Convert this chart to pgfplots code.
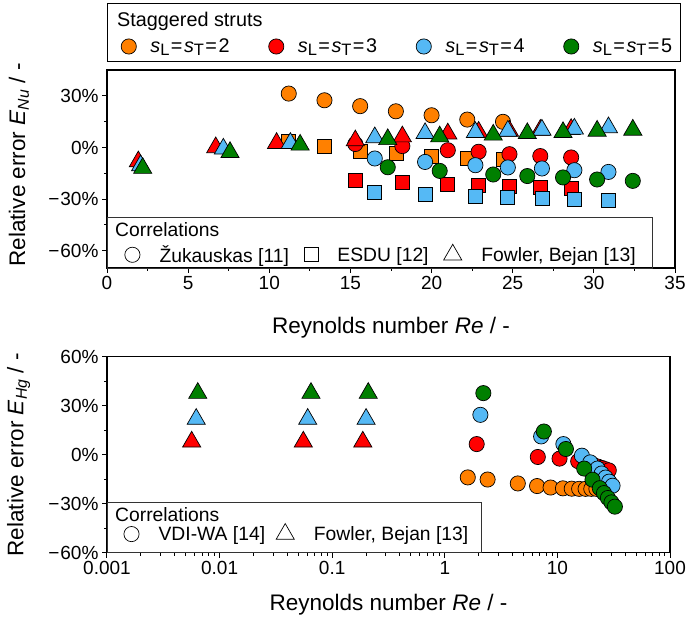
\documentclass[border=0pt]{standalone}
\usepackage{fontspec}
\setmainfont{Liberation Sans}
\usepackage{pgfplots}
\pgfplotsset{compat=1.18}
\definecolor{cOr}{HTML}{FF8000}
\definecolor{cRe}{HTML}{FF0000}
\definecolor{cBl}{HTML}{55B9F5}
\definecolor{cGr}{HTML}{007F00}
\pgfplotsset{
  base/.style={scale only axis, axis line style={line width=1.2pt},
    tick align=outside, xtick pos=left, ytick pos=left,
    major tick length=5pt, minor tick length=3pt,
    every tick/.append style={black, line width=1pt},
    tick label style={font=\fontsize{19}{22}\selectfont},
    label style={font=\fontsize{22.5}{26}\selectfont},
    legend cell align=left,
    legend image code/.code={\draw[##1] plot coordinates {(0pt,0pt)};}},
  C/.style={only marks, mark=*, mark size=7.6pt, mark options={fill=#1, draw=black, line width=0.7pt}, forget plot},
  S/.style={only marks, mark=square*, mark size=7pt, mark options={fill=#1, draw=black, line width=0.7pt}, forget plot},
  T/.style={only marks, mark=triangle*, mark size=10.5pt, mark options={fill=#1, draw=black, line width=0.7pt}, forget plot},
  LC/.style={only marks, mark=o, mark size=7.6pt, black, line width=0.7pt},
  LS/.style={only marks, mark=square, mark size=7pt, black, line width=0.7pt},
  LT/.style={only marks, mark=triangle, mark size=10.5pt, black, line width=0.7pt},
}
\newcommand{\sub}[1]{\raisebox{-0.3ex}{\fontsize{16.5}{17}\selectfont #1}}
\newcommand{\sLT}[1]{\textit{s}\sub{L}\kern1.5pt=\kern1.5pt\textit{s}\sub{T}\kern1.5pt=\kern1.5pt#1}
\newcommand{\mn}{\kern2pt−\kern1pt}
\begin{document}
\begin{tikzpicture}
\useasboundingbox (0pt,0pt) rectangle (688pt,626pt);
% ---------------- top axis ----------------
\begin{axis}[base, at={(107pt,358pt)}, anchor=south west, width=568pt, height=198pt,
  xmin=0, xmax=35, ymin=-70, ymax=45,
  xtick={0,5,10,15,20,25,30,35}, xticklabels={0,5,10,15,20,25,30,35}, minor x tick num=1,
  ytick={-60,-30,0,30}, yticklabels={\mn60\%,\mn30\%,0\%,30\%}, minor y tick num=1,
  xlabel={Reynolds number \textit{Re} / -},
  ylabel={Relative error \textit{E}\textsubscript{\textit{Nu}} / -},
  xlabel style={at={(axis description cs:0.5,-0.303)}, anchor=center},
  ylabel style={at={(axis description cs:-0.155,0.52)}, anchor=center},
  legend columns=3,
  legend style={at={(axis description cs:0.031,0.07)}, anchor=west, draw=none, fill=none,
    inner sep=0pt, nodes={inner sep=0pt}, font=\fontsize{19.3}{22}\selectfont,
    /tikz/every odd column/.append style={column sep=19.5pt},
    /tikz/every even column/.append style={column sep=15pt}},
]
\addlegendimage{LC}\addlegendentry{Žukauskas [11]}
\addlegendimage{LS}\addlegendentry{ESDU [12]}
\addlegendimage{LT}\addlegendentry{Fowler, Bejan [13]}
% orange s=2
\addplot[C=cOr] coordinates {(11.2,31.3) (13.4,27.4) (15.6,24.0) (17.8,21.0) (20.0,18.7) (22.2,16.2) (24.4,14.9)};
\addplot[S=cOr] coordinates {(11.2,3.8) (13.4,0.4) (15.6,-2.0) (17.8,-3.5) (20.0,-5.0) (22.2,-6.4) (24.4,-7.0)};
% red s=3
\addplot[C=cRe] coordinates {(15.3,2.0) (18.2,0.8) (21.0,-1.6) (22.9,-2.5) (24.8,-3.9) (26.7,-5.0) (28.6,-5.8)};
\addplot[S=cRe] coordinates {(15.3,-19.0) (18.2,-20.3) (21.0,-21.3) (22.9,-21.9) (24.8,-22.5) (26.7,-23.2) (28.6,-23.8)};
\addplot[T=cRe] coordinates {(1.93,-8.2) (6.7,0.0) (10.45,2.5) (15.3,4.0) (18.2,6.3) (21.0,8.0) (22.9,9.0) (24.8,9.6) (26.7,10.1) (28.6,10.6)};
% blue s=4
\addplot[C=cBl] coordinates {(16.5,-6.4) (19.6,-8.4) (22.7,-10.3) (24.7,-11.6) (26.8,-12.2) (28.8,-13.2) (30.9,-14.2)};
\addplot[S=cBl] coordinates {(16.5,-26.1) (19.6,-27.3) (22.7,-28.3) (24.7,-29.0) (26.8,-29.6) (28.8,-30.2) (30.9,-30.6)};
\addplot[T=cBl] coordinates {(2.07,-10.5) (7.17,-0.8) (11.3,2.5) (16.5,5.8) (19.6,8.2) (22.7,8.8) (24.7,9.6) (26.8,10.2) (28.8,10.8) (30.9,11.6)};
% green s=5
\addplot[C=cGr] coordinates {(17.3,-11.5) (20.5,-13.6) (23.8,-15.7) (25.9,-16.6) (28.1,-17.4) (30.2,-18.6) (32.4,-19.4)};
\addplot[T=cGr] coordinates {(2.2,-12.0) (7.58,-2.8) (11.9,1.5) (17.3,4.7) (20.5,6.3) (23.8,7.3) (25.9,8.2) (28.1,8.8) (30.2,9.6) (32.4,10.2)};
\end{axis}
% ---------------- bottom axis ----------------
\begin{axis}[base, at={(107pt,73.3pt)}, anchor=south west, width=563pt, height=196pt,
  xmode=log, xmin=0.001, xmax=100, ymin=-60, ymax=60,
  xtick={0.001,0.01,0.1,1,10,100}, xticklabels={0.001,0.01,0.1,1,10,100},
  ytick={-60,-30,0,30,60}, yticklabels={\mn60\%,\mn30\%,0\%,30\%,60\%}, minor y tick num=1,
  xlabel={Reynolds number \textit{Re} / -},
  ylabel={Relative error \textit{E}\textsubscript{\textit{Hg}} / -},
  xlabel style={at={(axis description cs:0.5,-0.267)}, anchor=center},
  ylabel style={at={(axis description cs:-0.157,0.5)}, anchor=center},
  legend columns=2,
  legend style={at={(axis description cs:0.0297,0.102)}, anchor=west, draw=none, fill=none,
    inner sep=0pt, nodes={inner sep=0pt}, font=\fontsize{19.3}{22}\selectfont,
    /tikz/every odd column/.append style={column sep=19.5pt},
    /tikz/every even column/.append style={column sep=11pt}},
]
\addlegendimage{LC}\addlegendentry{VDI-WA [14]}
\addlegendimage{LT}\addlegendentry{Fowler, Bejan [13]}
\addplot[C=cOr] coordinates {(1.6,-13.9) (2.4,-15.2) (4.45,-17.6) (6.6,-19.2) (8.7,-20.1) (11.2,-20.6) (13.4,-20.8) (15.6,-20.9) (17.8,-20.9) (20.0,-20.9) (22.2,-20.9) (24.4,-20.9)};
\addplot[T=cRe] coordinates {(0.00565,7.9) (0.0554,7.9) (0.187,7.9)};
\addplot[C=cRe] coordinates {(1.92,6.5) (6.7,-1.4) (10.45,-2.4) (15.3,-4.0) (18.2,-5.3) (21.0,-6.4) (22.9,-7.3) (24.8,-8.1) (26.7,-8.9) (28.6,-9.6)};
\addplot[T=cBl] coordinates {(0.0062,21.8) (0.0606,21.8) (0.2,21.8)};
\addplot[C=cBl] coordinates {(2.07,24.4) (7.17,11.2) (11.3,6.5) (16.5,-0.6) (19.6,-4.7) (22.7,-8.5) (24.7,-11.5) (26.8,-14.0) (28.8,-16.5) (30.9,-19.0)};
\addplot[T=cGr] coordinates {(0.0064,37.7) (0.0648,37.7) (0.209,37.7)};
\addplot[C=cGr] coordinates {(2.2,37.7) (7.58,14.2) (11.9,3.5) (17.3,-8.5) (20.5,-15.3) (23.8,-20.5) (25.9,-23.5) (28.1,-26.5) (30.2,-29.2) (32.4,-31.8)};
\end{axis}
% ---------------- staggered struts legend ----------------
\begin{axis}[at={(107pt,565pt)}, anchor=south west, scale only axis, width=573pt, height=58pt,
  hide axis, xmin=0, xmax=1, ymin=0, ymax=1,
  legend image code/.code={\draw[#1] plot coordinates {(0pt,0pt)};},
  legend columns=4,
  legend style={at={(axis description cs:0.0244,0.25)}, anchor=west, draw=none, fill=none,
    inner sep=0pt, nodes={inner sep=0pt}, font=\fontsize{19.8}{22}\selectfont,
    /tikz/every odd column/.append style={column sep=14pt},
    /tikz/every even column/.append style={column sep=18.3pt}},
]
\addlegendimage{only marks, mark=*, mark size=7.6pt, mark options={fill=cOr, draw=black, line width=0.7pt}}
\addlegendentry{\makebox[100pt][l]{\sLT{2}}}
\addlegendimage{only marks, mark=*, mark size=7.6pt, mark options={fill=cRe, draw=black, line width=0.7pt}}
\addlegendentry{\makebox[100pt][l]{\sLT{3}}}
\addlegendimage{only marks, mark=*, mark size=7.6pt, mark options={fill=cBl, draw=black, line width=0.7pt}}
\addlegendentry{\makebox[100pt][l]{\sLT{4}}}
\addlegendimage{only marks, mark=*, mark size=7.6pt, mark options={fill=cGr, draw=black, line width=0.7pt}}
\addlegendentry{\makebox[70pt][l]{\sLT{5}}}
\end{axis}
% legend boxes and titles
\draw[black, line width=0.8pt] (107pt,565pt) rectangle (680pt,623pt);
\node[anchor=west, inner sep=0pt, font=\fontsize{19.8}{22}\selectfont] at (117pt,605pt) {Staggered struts};
\draw[black!80, line width=0.8pt] (107pt,358pt) rectangle (652pt,409pt);
\node[anchor=west, inner sep=0pt, font=\fontsize{19.3}{22}\selectfont] at (115pt,396pt) {Correlations};
\draw[black!80, line width=0.8pt] (107pt,73.3pt) rectangle (481pt,123.3pt);
\node[anchor=west, inner sep=0pt, font=\fontsize{19.3}{22}\selectfont] at (115pt,111pt) {Correlations};
\end{tikzpicture}
\end{document}
